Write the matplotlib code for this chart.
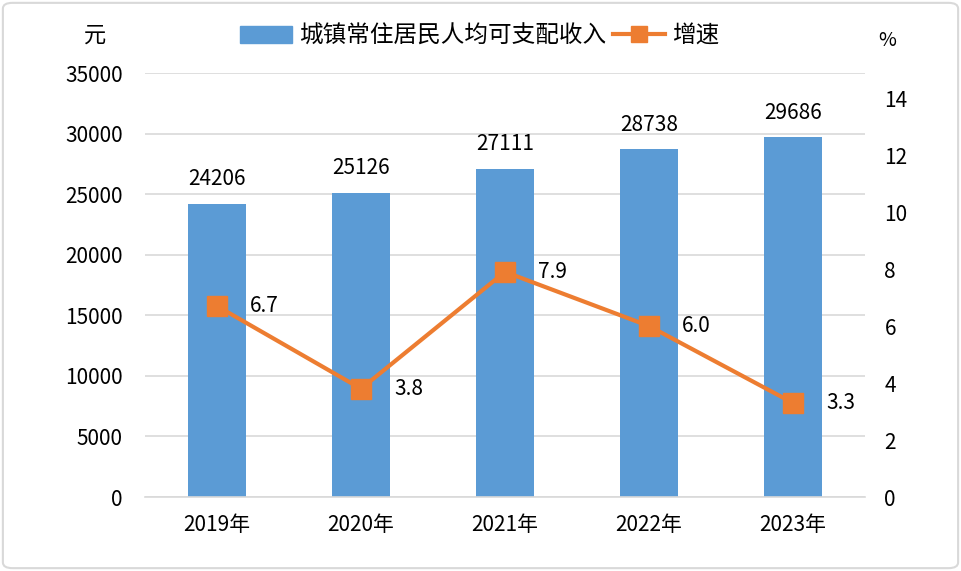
import matplotlib.pyplot as plt
from matplotlib.patches import FancyBboxPatch
from matplotlib.lines import Line2D
from matplotlib.patches import Patch

plt.rcParams['font.family'] = ['Noto Sans CJK SC', 'DejaVu Sans']

years = ['2019年', '2020年', '2021年', '2022年', '2023年']
income = [24206, 25126, 27111, 28738, 29686]
growth = [6.7, 3.8, 7.9, 6.0, 3.3]

blue = '#5B9BD5'
orange = '#ED7D31'

fig = plt.figure(figsize=(9.61, 5.71), dpi=100)
ax = fig.add_axes([145 / 961, 1 - 497 / 571, 720 / 961, 424 / 571])
ax2 = ax.twinx()

x = list(range(len(years)))
ax.bar(x, income, width=0.4, color=blue, zorder=2)
ax.set_xlim(-0.5, 4.5)
ax.set_ylim(0, 35000)
ax.set_yticks(range(0, 35001, 5000))
ax.grid(axis='y', color='#D9D9D9', linewidth=1.2, zorder=0)
ax.set_axisbelow(True)
for s in ['top', 'right', 'left']:
    ax.spines[s].set_visible(False)
ax.spines['bottom'].set_color('#D9D9D9')
ax.spines['bottom'].set_linewidth(1.2)
ax.tick_params(axis='both', length=0, labelsize=15, colors='#000000')
ax.tick_params(axis='y', pad=16)
ax.tick_params(axis='x', pad=12)
ax.set_xticks(x)
ax.set_xticklabels(years)

for xi, v in zip(x, income):
    ax.text(xi, v + 1100, str(v), ha='center', va='bottom', fontsize=15)

ax2.plot(x, growth, color=orange, linewidth=3, marker='s', markersize=14, zorder=3)
ax2.set_ylim(0, 14.88)
ax2.set_yticks(range(0, 15, 2))
for s in ax2.spines.values():
    s.set_visible(False)
ax2.tick_params(axis='y', length=0, labelsize=15, pad=14)
for xi, g in zip(x, growth):
    ax2.text(xi + 0.23, g, f'{g:.1f}', ha='left', va='center', fontsize=15)

fig.text(95 / 961, 1 - 35 / 571, '元', ha='center', va='center', fontsize=16)
fig.text(887 / 961, 1 - 40 / 571, '%', ha='center', va='center', fontsize=14)

handles = [Patch(color=blue),
           Line2D([0], [0], color=orange, linewidth=3, marker='s', markersize=12)]
fig.legend(handles, ['城镇常住居民人均可支配收入', '增速'], loc='center',
           bbox_to_anchor=(480 / 961, 1 - 36 / 571), ncol=2, frameon=False,
           fontsize=17, handlelength=2.2, columnspacing=0.3, handletextpad=0.3)

border = FancyBboxPatch((0.003, 0.005), 0.994, 0.99, boxstyle='round,pad=0,rounding_size=0.01',
                        transform=fig.transFigure, fill=False, edgecolor='#D9D9D9', linewidth=1.5)
fig.patches.append(border)

fig.savefig('out.png', dpi=100)
